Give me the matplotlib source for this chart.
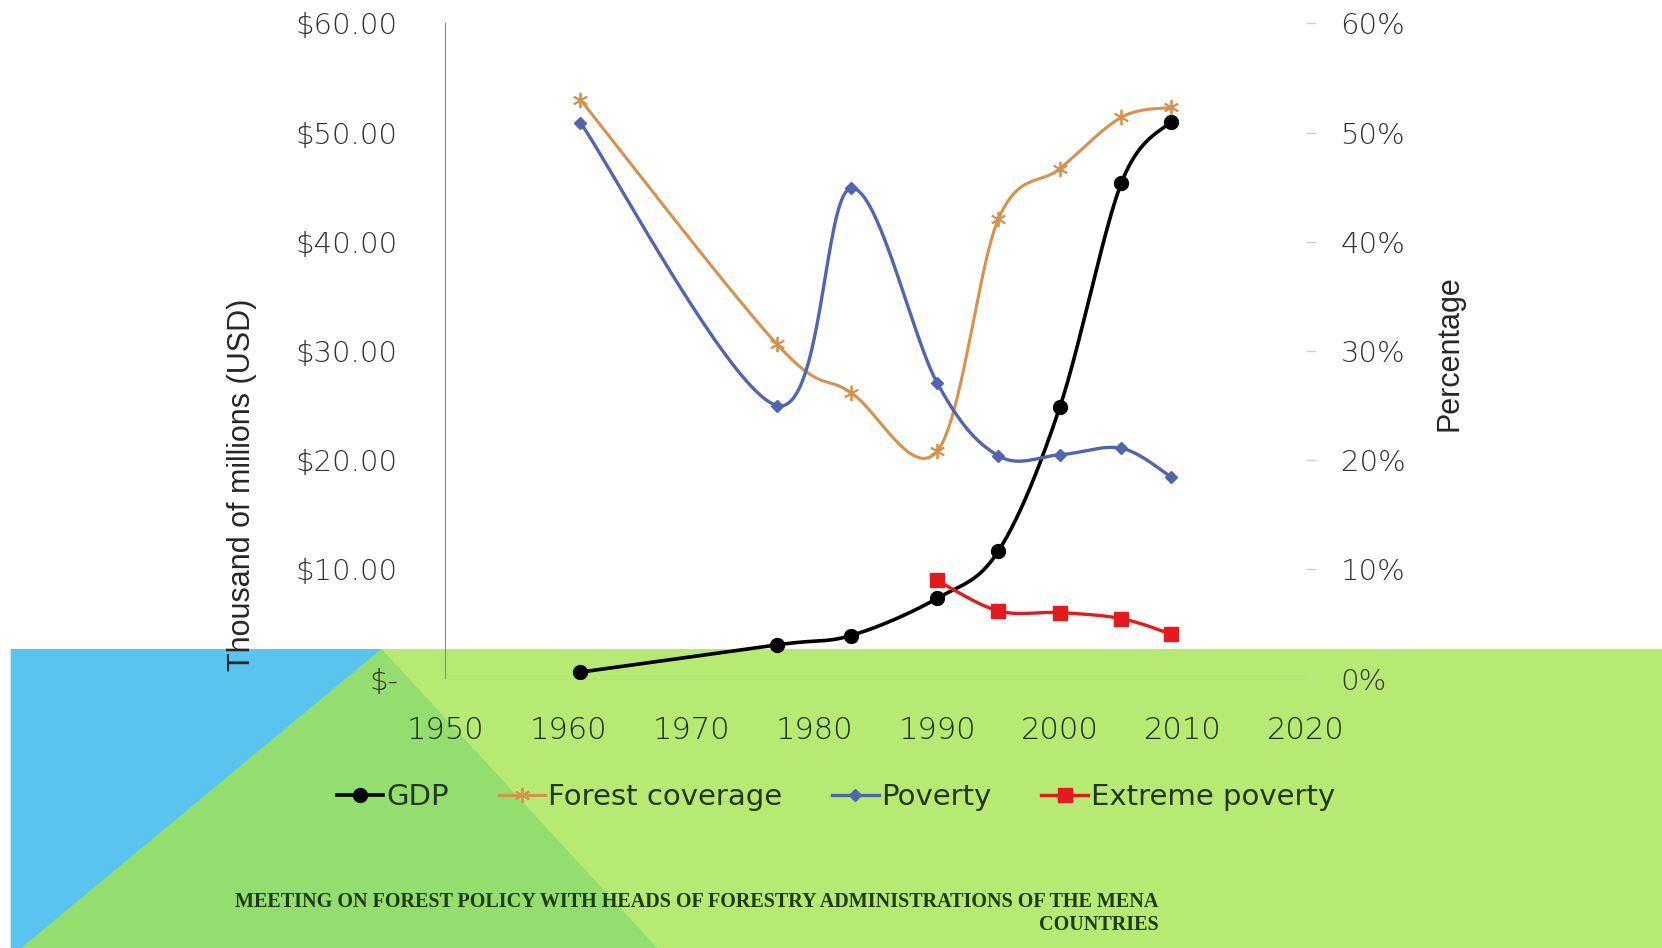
import numpy as np
import matplotlib.pyplot as plt
from matplotlib.patches import Polygon
from matplotlib.lines import Line2D
from matplotlib import font_manager

# Datos
years = [1961, 1977, 1983, 1990, 1995, 2000, 2005, 2009]
gdp = [0.6, 3.1, 3.95, 7.35, 11.7, 24.9, 45.4, 51.0]
forest = [0.530, 0.306, 0.262, 0.208, 0.421, 0.467, 0.514, 0.523]
poverty = [0.509, 0.250, 0.449, 0.271, 0.204, 0.205, 0.211, 0.185]
ext_years = [1990, 1995, 2000, 2005, 2009]
ext_poverty = [0.090, 0.062, 0.0605, 0.055, 0.041]

x_ticks = [1950, 1960, 1970, 1980, 1990, 2000, 2010, 2020]
gdp_ticks = [0, 10, 20, 30, 40, 50, 60]
pct_ticks = [0, 0.1, 0.2, 0.3, 0.4, 0.5, 0.6]

series_names = ['GDP', 'Forest coverage', 'Poverty', 'Extreme poverty']
footer = ('MEETING ON FOREST POLICY WITH HEADS OF FORESTRY ADMINISTRATIONS OF THE MENA\n'
          'COUNTRIES')


# Línea suavizada tipo Excel (Bezier / Catmull-Rom)
def smooth(x, y, n=40):
    x = np.asarray(x, float)
    y = np.asarray(y, float)
    px = np.concatenate([[x[0]], x, [x[-1]]])
    py = np.concatenate([[y[0]], y, [y[-1]]])
    t = np.linspace(0, 1, n)[:, None]
    out = []
    for i in range(1, len(px) - 2):
        p_prev = np.array([px[i - 1], py[i - 1]])
        p0 = np.array([px[i], py[i]])
        p3 = np.array([px[i + 1], py[i + 1]])
        p_next = np.array([px[i + 2], py[i + 2]])
        c1 = p0 + (p3 - p_prev) / 6
        c2 = p3 - (p_next - p0) / 6
        seg = (1 - t) ** 3 * p0 + 3 * (1 - t) ** 2 * t * c1 + 3 * (1 - t) * t ** 2 * c2 + t ** 3 * p3
        out.append(seg)
    out = np.vstack(out)
    return out[:, 0], out[:, 1]


def pick_font(names, default):
    available = {f.name for f in font_manager.fontManager.ttflist}
    for name in names:
        if name in available:
            return name
    return default


footer_font = pick_font(['Liberation Sans Narrow', 'DejaVu Serif Condensed', 'DejaVu Sans Condensed'],
                        'Liberation Serif')

c_gdp = '#000000'
c_forest = '#D8914A'
c_pov = '#5064B0'
c_ext = '#E41A1C'
txt = '#333333'

fig = plt.figure(figsize=(16.62, 9.48), dpi=100)
fig.patch.set_facecolor('white')

# Fondo de la diapositiva
band_top = 0.3154
fig.patches.append(Polygon([(0.0064, band_top), (1, band_top), (1, 0), (0.0064, 0)],
                           closed=True, transform=fig.transFigure, facecolor='#B6EA72',
                           edgecolor='none', zorder=-3))
fig.patches.append(Polygon([(0.2296, band_top), (0.3954, 0), (0.0128, 0)],
                           closed=True, transform=fig.transFigure, facecolor='#93DE6E',
                           edgecolor='none', zorder=-2))
fig.patches.append(Polygon([(0.0064, band_top), (0.2296, band_top), (0.0128, 0), (0.0064, 0)],
                           closed=True, transform=fig.transFigure, facecolor='#5AC4F0',
                           edgecolor='none', zorder=-1))

ax = fig.add_axes([0.2679, 0.2841, 0.5178, 0.6913])
ax.set_facecolor('none')
ax2 = ax.twinx()
ax.set_zorder(2)
ax2.set_zorder(3)
ax2.set_facecolor('none')

# GDP (eje izquierdo)
sx, sy = smooth(years, gdp)
ax.plot(sx, sy, color=c_gdp, lw=2.6, zorder=3)
ax.plot(years, gdp, 'o', color=c_gdp, ms=10, zorder=4)

# Porcentajes (eje derecho)
sx, sy = smooth(years, forest)
ax2.plot(sx, sy, color=c_forest, lw=2.2)
ax2.plot(years, forest, linestyle='none', marker=(6, 2, 0), color=c_forest, ms=11, mew=1.3)

sx, sy = smooth(years, poverty)
ax2.plot(sx, sy, color=c_pov, lw=2.4)
ax2.plot(years, poverty, 'D', color=c_pov, ms=6)

sx, sy = smooth(ext_years, ext_poverty)
ax2.plot(sx, sy, color=c_ext, lw=2.4)
ax2.plot(ext_years, ext_poverty, 's', color=c_ext, ms=10)

ax.set_xlim(1950, 2020)
ax.set_ylim(0, 60)
ax2.set_ylim(0, 0.6)
ax.set_xticks(x_ticks)
ax.set_yticks(gdp_ticks)
ax.set_yticklabels(['$-' if v == 0 else '${:.2f}'.format(v) for v in gdp_ticks])
ax2.set_yticks(pct_ticks)
ax2.set_yticklabels(['{:.0f}%'.format(v * 100) for v in pct_ticks])

for s in ['top', 'right']:
    ax.spines[s].set_visible(False)
ax.spines['left'].set_color('#8c8c8c')
ax.spines['bottom'].set_color('#c8c8c8')
for s in ax2.spines.values():
    s.set_visible(False)

ax.tick_params(axis='y', length=0, pad=34, labelsize=21, labelcolor=txt)
ax.tick_params(axis='x', length=0, pad=27, labelsize=22, labelcolor='#1c2a14')
ax2.tick_params(axis='y', length=7, width=1, color='#d0d0d0', pad=18, labelsize=21, labelcolor=txt)
for lab in ax.get_xticklabels() + ax.get_yticklabels() + ax2.get_yticklabels():
    lab.set_fontweight('light')

fig.text(0.1454, 0.4888, 'Thousand of millions (USD)', rotation=90, ha='center', va='center',
         fontsize=22, color='#262626', family='Liberation Sans')
fig.text(0.8724, 0.6275, 'Percentage', rotation=90, ha='center', va='center',
         fontsize=22, color='#262626', family='Liberation Sans')

handles = [
    Line2D([], [], color=c_gdp, lw=2.6, marker='o', ms=10),
    Line2D([], [], color=c_forest, lw=2.2, marker=(6, 2, 0), ms=11, mew=1.3),
    Line2D([], [], color=c_pov, lw=2.4, marker='D', ms=6),
    Line2D([], [], color=c_ext, lw=2.4, marker='s', ms=10),
]
fig.legend(handles, series_names, loc='center', bbox_to_anchor=(0.503, 0.159), ncol=4,
           frameon=False, fontsize=21, handlelength=1.6, handletextpad=0.1,
           columnspacing=1.7, labelcolor='#26361e')

fig.text(0.697, 0.036, footer, ha='right', va='center', multialignment='right',
         fontsize=14.5, fontweight='bold', color='#1E3A12', family=footer_font,
         linespacing=1.2)

fig.savefig('out.png', dpi=100)
